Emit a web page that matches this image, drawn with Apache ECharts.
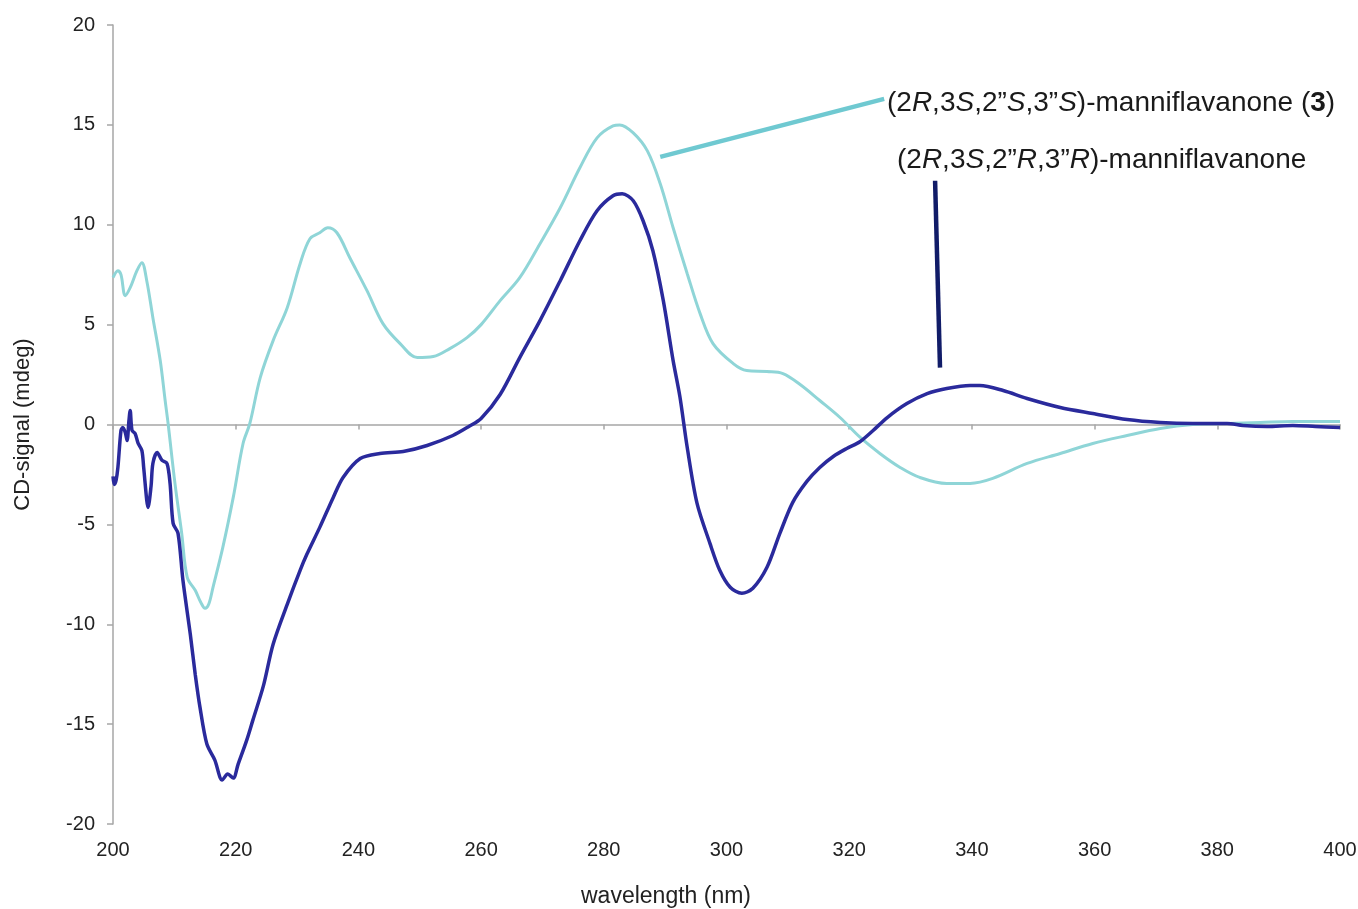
<!DOCTYPE html>
<html>
<head>
<meta charset="utf-8">
<script src="https://cdn.jsdelivr.net/npm/echarts@6/dist/echarts.min.js"></script>
<style>
  html, body { margin: 0; padding: 0; background: #fff; }
  #chart { width: 1358px; height: 909px; }
</style>
</head>
<body>
<div id="chart"></div>
<script>
// CD spectra of the two manniflavanone diastereomers
const xTicks = [200, 220, 240, 260, 280, 300, 320, 340, 360, 380, 400];
const yTicks = [-20, -15, -10, -5, 0, 5, 10, 15, 20];

// (2R,3S,2''S,3''S)-manniflavanone (3)
const wlSS = [200, 200.8, 201.3, 202, 202.8, 203.9, 204.7, 205.5, 206.5, 207.7, 208.5, 209, 210.1, 211.2, 212.1, 213.4, 214.3, 215, 215.6, 216.3, 217.9, 219.6, 221.2, 222.3, 224, 226.1, 228.4, 230.5, 232.1, 233.7, 235, 236.5, 238.6, 241.4, 244, 246.8, 249.6, 252.2, 254.9, 257.7, 260, 263.1, 266.3, 269.6, 272.9, 276.1, 278.9, 281.5, 282.6, 284.8, 287.1, 289.2, 291.3, 293.6, 295.7, 297.8, 301.1, 303.3, 306.6, 309.2, 312, 315.2, 318.5, 321.8, 325, 328.3, 331.5, 335.9, 339.7, 343.4, 349, 354.4, 359.7, 365.3, 370.7, 376, 381.6, 387, 392.3, 400];
const cdSS = [7.35, 7.7, 7.5, 6.45, 6.85, 7.7, 8.1, 7.2, 5.35, 3.2, 1.2, 0.0, -2.95, -5.45, -7.65, -8.3, -8.9, -9.2, -9.0, -8.15, -6.15, -3.65, -0.95, 0.05, 2.35, 4.2, 5.85, 8.05, 9.3, 9.6, 9.85, 9.6, 8.35, 6.7, 5.05, 4.05, 3.35, 3.4, 3.8, 4.35, 5.0, 6.2, 7.35, 9.05, 10.85, 12.85, 14.35, 14.95, 15.0, 14.6, 13.7, 12.05, 9.85, 7.55, 5.55, 4.05, 3.05, 2.7, 2.65, 2.55, 2.0, 1.2, 0.35, -0.65, -1.45, -2.15, -2.65, -2.95, -2.95, -2.7, -1.95, -1.45, -0.95, -0.55, -0.2, 0, 0.05, 0.1, 0.15, 0.15];

// (2R,3S,2''R,3''R)-manniflavanone
const wlRR = [200, 200.2, 200.5, 200.8, 201.3, 201.6, 202, 202.3, 202.6, 202.8, 203.1, 203.6, 204.1, 204.7, 205, 205.5, 205.7, 206.2, 206.5, 207.2, 208, 208.8, 209.3, 209.8, 210.6, 211.4, 212.6, 213.4, 214.2, 215.3, 216.6, 217.8, 218.7, 219.6, 220.4, 221.8, 222.8, 224.5, 226.1, 228.4, 230.5, 231.6, 233.7, 235.9, 237.5, 240.3, 243.5, 247.3, 251.2, 255.4, 258, 260, 263.1, 266.3, 269.6, 272.9, 276.1, 278.9, 281.5, 283, 284.8, 286.4, 288, 289.7, 291.3, 292.4, 293.6, 295.2, 297.3, 298.9, 300.6, 302.5, 304.3, 306.6, 308.7, 310.8, 313.1, 315.2, 317.4, 319.6, 321.8, 323.9, 326.2, 329.4, 332.7, 335.9, 339.7, 341.3, 345.1, 349, 354.4, 359.7, 365.3, 370.7, 376, 381.6, 384.2, 388.1, 392.3, 396, 400];
const cdRR = [-2.6, -3.0, -2.8, -2.15, -0.3, -0.15, -0.4, -0.8, 0.2, 0.7, -0.3, -0.45, -0.95, -1.3, -2.15, -3.8, -4.15, -3.1, -1.95, -1.4, -1.8, -1.95, -2.95, -4.95, -5.45, -7.8, -10.5, -12.5, -14.2, -16.0, -16.8, -17.8, -17.5, -17.7, -17.0, -15.8, -14.8, -13.1, -11.0, -9.0, -7.3, -6.5, -5.15, -3.65, -2.65, -1.7, -1.45, -1.35, -1.05, -0.55, -0.1, 0.3, 1.5, 3.35, 5.2, 7.2, 9.2, 10.7, 11.45, 11.55, 11.2, 10.2, 8.7, 6.2, 3.2, 1.4, -1.15, -3.95, -5.95, -7.3, -8.15, -8.45, -8.2, -7.15, -5.45, -3.9, -2.85, -2.15, -1.6, -1.2, -0.85, -0.3, 0.35, 1.05, 1.55, 1.8, 1.95, 1.95, 1.7, 1.3, 0.85, 0.55, 0.25, 0.1, 0.05, 0.05, -0.05, -0.1, -0.05, -0.1, -0.15];

// leader lines from the curves to their labels (wavelength, signal)
const leaderSS = [[289.2, 13.4], [325.7, 16.3]];
const leaderRR = [[334.0, 12.2], [334.8, 2.85]];

const zip = (xs, ys) => xs.map((x, i) => [x, ys[i]]);

const FONT = '"Liberation Sans", Arial, sans-serif';
const cyan = '#8fd5d7';
const navy = '#2a2a9c';

const chart = echarts.init(document.getElementById('chart'));
chart.setOption({
  animation: false,
  backgroundColor: '#ffffff',
  grid: { left: 113, right: 18, top: 25, bottom: 85, containLabel: false, outerBoundsMode: 'none' },
  xAxis: [
    {
      type: 'value', min: xTicks[0], max: xTicks[xTicks.length - 1], interval: 20,
      position: 'bottom',
      axisLine: { show: false, onZero: false },
      axisTick: { show: false },
      splitLine: { show: false },
      axisLabel: { color: '#222', fontSize: 20, fontFamily: FONT, margin: 16 },
      name: 'wavelength (nm)', nameLocation: 'middle', nameGap: 61,
      nameTextStyle: { color: '#222', fontSize: 23, fontFamily: FONT, padding: [0, 121, 0, 0] }
    },
    {
      type: 'value', min: xTicks[0], max: xTicks[xTicks.length - 1], interval: 20,
      position: 'bottom',
      axisLine: { show: true, onZero: true, lineStyle: { color: '#a6a6a6', width: 1.5 } },
      axisTick: { show: true, length: 5, lineStyle: { color: '#a6a6a6', width: 1.5 } },
      axisLabel: { show: false },
      splitLine: { show: false }
    }
  ],
  yAxis: {
    type: 'value', min: yTicks[0], max: yTicks[yTicks.length - 1], interval: 5,
    axisLine: { show: true, onZero: false, lineStyle: { color: '#a6a6a6', width: 1.5 } },
    axisTick: { show: true, length: 6, lineStyle: { color: '#a6a6a6', width: 1.5 } },
    splitLine: { show: false },
    axisLabel: { color: '#222', fontSize: 20, fontFamily: FONT, margin: 18 },
    name: 'CD-signal (mdeg)', nameLocation: 'middle', nameGap: 79, nameRotate: 90,
    nameTextStyle: { color: '#222', fontSize: 22, fontFamily: FONT }
  },
  series: [
    {
      name: '(2R,3S,2"S,3"S)-manniflavanone (3)',
      type: 'line', xAxisIndex: 0, showSymbol: false, smooth: 0.35,
      data: zip(wlSS, cdSS),
      lineStyle: { color: cyan, width: 3 },
      z: 2,
      markLine: {
        silent: true, symbol: 'none', label: { show: false },
        lineStyle: { color: '#6fc9d1', width: 4.5, type: 'solid' },
        data: [[{ coord: leaderSS[0] }, { coord: leaderSS[1] }]]
      }
    },
    {
      name: '(2R,3S,2"R,3"R)-manniflavanone',
      type: 'line', xAxisIndex: 0, showSymbol: false, smooth: 0.3,
      data: zip(wlRR, cdRR),
      lineStyle: { color: navy, width: 3.5 },
      z: 3,
      markLine: {
        silent: true, symbol: 'none', label: { show: false },
        lineStyle: { color: '#111c68', width: 4.5, type: 'solid' },
        data: [[{ coord: leaderRR[0] }, { coord: leaderRR[1] }]]
      }
    }
  ],
  graphic: [
    {
      type: 'text', x: 887, y: 103,
      style: {
        text: '(2{i|R},3{i|S},2\u201D{i|S},3\u201D{i|S})-manniflavanone ({b|3})',
        font: '28px ' + FONT, fill: '#1a1a1a', verticalAlign: 'middle',
        rich: {
          i: { fontStyle: 'italic', fontSize: 28, fontFamily: FONT, fill: '#1a1a1a' },
          b: { fontWeight: 'bold', fontSize: 28, fontFamily: FONT, fill: '#1a1a1a' }
        }
      }
    },
    {
      type: 'text', x: 897, y: 160,
      style: {
        text: '(2{i|R},3{i|S},2\u201D{i|R},3\u201D{i|R})-manniflavanone',
        font: '28px ' + FONT, fill: '#1a1a1a', verticalAlign: 'middle',
        rich: {
          i: { fontStyle: 'italic', fontSize: 28, fontFamily: FONT, fill: '#1a1a1a' }
        }
      }
    }
  ]
});
</script>
</body>
</html>
